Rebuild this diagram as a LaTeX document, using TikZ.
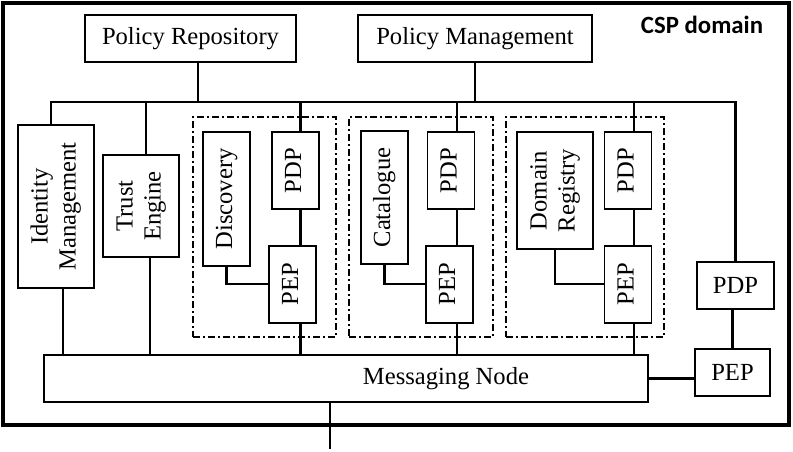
\documentclass[tikz,border=0pt]{standalone}
\usepackage{fontspec}
\setmainfont{Liberation Serif}
\newfontfamily\headfont{Carlito}
\usepackage{graphicx}
\usetikzlibrary{positioning}
\newcommand{\vtext}[1]{\rotatebox{90}{\begin{tabular}{@{}c@{}}#1\end{tabular}}}

\begin{document}
\begin{tikzpicture}[x=0.5pt, y=-0.5pt, font=\fontsize{12.3}{14}\selectfont]
    \tikzstyle{unitbox}=[draw, line width=0.85pt, inner sep=0pt]
    \tikzstyle{pointbox}=[unitbox, minimum width=23.5pt, minimum height=38.5pt]
    \tikzstyle{groupbox}=[draw, line width=1.1pt, dash pattern=on 3.5pt off 1.5pt on 1pt off 1.5pt, minimum height=110pt]
    \tikzstyle{wire}=[line width=1.1pt]

    \useasboundingbox (0,0) rectangle (793,451);
    \node[draw, line width=2pt, minimum width=393pt, minimum height=211pt] (frame) at (396,214) {};
    \node[font=\headfont\bfseries\fontsize{12.4}{14}\selectfont] (domain) at (702,25) {CSP domain};

    \node[unitbox, minimum width=105.5pt, minimum height=23.5pt] (repo) at (190.5,38.5) {Policy Repository};
    \node[unitbox, minimum width=117pt, minimum height=23.5pt] (mgmt) at (475,38.5) {Policy Management};

    \node[unitbox, minimum width=38pt, minimum height=81.5pt] (idm) at (56,206.5) {\vtext{Identity\\Management}};
    \node[unitbox, minimum width=38pt, minimum height=51pt] (trust) at (141,206) {\vtext{Trust\\Engine}};

    % dash-dot groups
    \node[groupbox, minimum width=71.5pt] (grpA) at (264.5,227) {};
    \node[groupbox, minimum width=72pt] (grpB) at (421,227) {};
    \node[groupbox, minimum width=79pt] (grpC) at (585,227) {};

    \node[unitbox, minimum width=23.5pt, minimum height=67pt] (discA) at (226.5,199) {\vtext{Discovery}};
    \node[pointbox] (pdpA) at (295.5,170.5) {\vtext{PDP}};
    \node[pointbox, below=17.5pt of pdpA, xshift=-1.5pt] (pepA) {\vtext{PEP}};

    \node[unitbox, minimum width=23.5pt, minimum height=66.5pt] (catB) at (384.5,197.5) {\vtext{Catalogue}};
    \node[pointbox] (pdpB) at (451,170.5) {\vtext{PDP}};
    \node[pointbox, below=17.5pt of pdpB, xshift=-0.75pt] (pepB) {\vtext{PEP}};

    \node[unitbox, minimum width=38pt, minimum height=58.5pt] (regC) at (555,190.5) {\vtext{Domain\\Registry}};
    \node[pointbox] (pdpC) at (628,170.5) {\vtext{PDP}};
    \node[pointbox, below=17.5pt of pdpC] (pepC) {\vtext{PEP}};

    \node[unitbox, minimum width=38.5pt, minimum height=23.5pt] (pdpR) at (735.5,285.5) {PDP};
    \node[unitbox, minimum width=37.5pt, minimum height=23.5pt, below=19pt of pdpR, xshift=-1.5pt] (pepR) {PEP};

    \node[unitbox, minimum width=302pt, minimum height=23.5pt, label={[xshift=50pt]center:Messaging Node}] (msg) at (346,378.5) {};

    \coordinate (busL) at (51,102);
    \coordinate (busR) at (735.5,102);
    \coordinate (exit) at (330,449);

    % bus and side units
    \draw[wire] (idm.north -| busL) -- (busL) -- (busR) -- (pdpR.north);
    \draw[wire] ([xshift=3.75pt]repo.south) -- ([xshift=3.75pt]repo.south |- busL);
    \draw[wire] (mgmt.south) -- (mgmt.south |- busL);
    \draw[wire] ([xshift=2.5pt]trust.north) -- ([xshift=2.5pt]trust.north |- busL);
    \draw[wire] ([xshift=3.5pt]idm.south) -- ([xshift=3.5pt]idm.south |- msg.north);
    \draw[wire] ([xshift=4.5pt]trust.south) -- ([xshift=4.5pt]trust.south |- msg.north);

    % group A
    \coordinate (lineA) at ([xshift=2.5pt]pdpA.north);
    \draw[wire] (lineA |- busL) -- (lineA);
    \draw[wire] (lineA |- pdpA.south) -- (lineA |- pepA.north);
    \draw[wire] (lineA |- pepA.south) -- (lineA |- msg.north);
    \draw[wire] (discA.south) |- (pepA.west);

    % group B
    \coordinate (lineB) at ([xshift=3pt]pdpB.north);
    \draw[wire] (lineB |- busL) -- (lineB);
    \draw[wire] (lineB |- pdpB.south) -- (lineB |- pepB.north);
    \draw[wire] (lineB |- pepB.south) -- (lineB |- msg.north);
    \draw[wire] (catB.south) |- (pepB.west);

    % group C
    \coordinate (lineC) at ([xshift=3pt]pdpC.north);
    \draw[wire] (lineC |- busL) -- (lineC);
    \draw[wire] (lineC |- pdpC.south) -- (lineC |- pepC.north);
    \draw[wire] (lineC |- pepC.south) -- (lineC |- msg.north);
    \draw[wire] (regC.south) |- (pepC.west);

    % right side
    \draw[wire] (pdpR.south -| pepR.north) -- (pepR.north);
    \draw[wire] (msg.east) -- (msg.east -| pepR.west);
    \draw[wire] (msg.south -| exit) -- (exit);
\end{tikzpicture}
\end{document}
